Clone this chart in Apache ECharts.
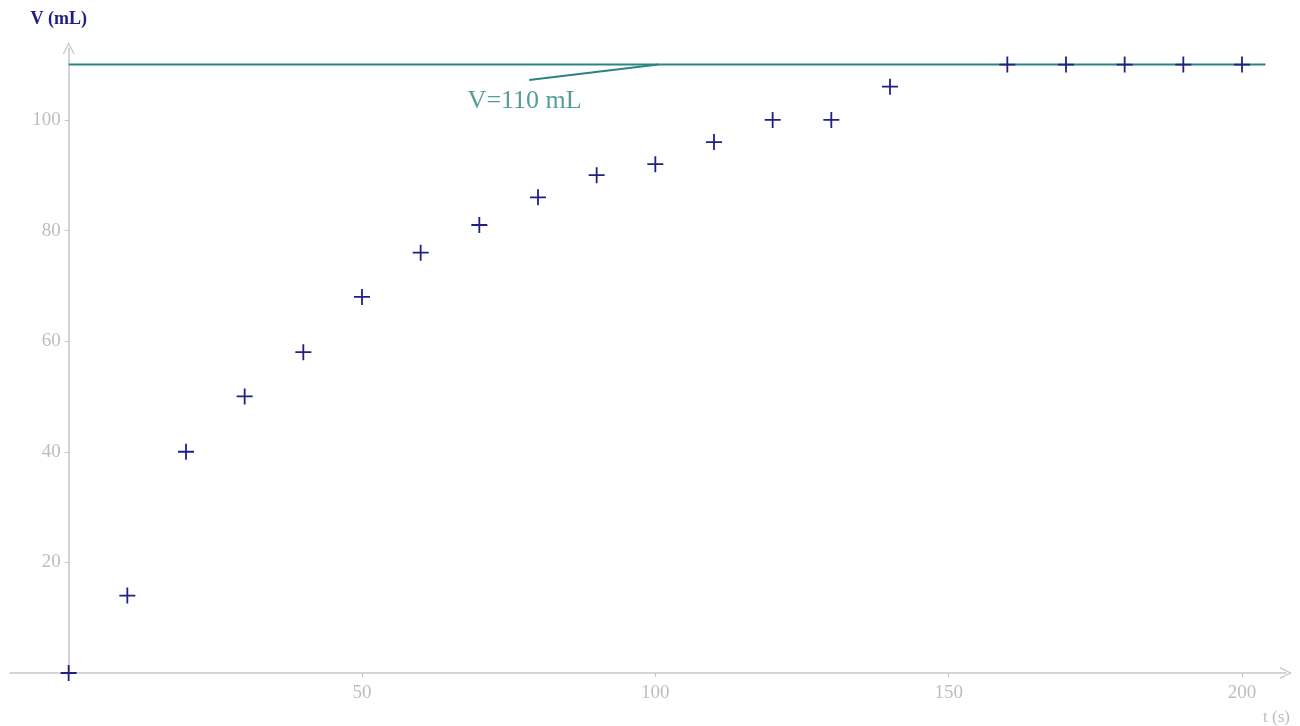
<!DOCTYPE html>
<html>
<head>
<meta charset="utf-8">
<script src="https://cdn.jsdelivr.net/npm/echarts@6/dist/echarts.min.js"></script>
<style>
html,body{margin:0;padding:0;background:#fff;}
#c{width:1300px;height:726px;}
</style>
</head>
<body>
<div id="c"></div>
<script>
// ---- data ----
var times = [0, 10, 20, 30, 40, 50, 60, 70, 80, 90, 100, 110, 120, 130, 140, 160, 170, 180, 190, 200];
var volumes = [0, 14, 40, 50, 58, 68, 76, 81, 86, 90, 92, 96, 100, 100, 106, 110, 110, 110, 110, 110];
var limitValue = 110;
var limitStartT = 0;
var limitEndT = 204;
var annotationText = 'V=110 mL';
var leaderFrom = [78.5, 107.2];
var leaderTo = [100.5, 110];
var annotationAnchor = [68, 103.4];
var xTickValues = [50, 100, 150, 200];
var yTickValues = [20, 40, 60, 80, 100];
var xTitle = 't (s)';
var yTitle = 'V (mL)';

var points = times.map(function (t, i) { return [t, volumes[i]]; });

var W = 1300;
var gridLeft = 10, gridRight = 14;
var xMin = -10, xMax = 207.5;
var plotW = W - gridLeft - gridRight;
var yAxisOffset = -(0 - xMin) * plotW / (xMax - xMin);

var axisGray = '#c6c6c6';
var labelGray = '#bdbdbd';
var teal = '#2a8580';
var navy = '#1f1f86';
var serif = '"Liberation Serif", "DejaVu Serif", serif';
var chevron = 'path://M0,12 L6,0 L12,12 L10.6,12 L6,2.6 L1.4,12 Z';
var plus = 'path://M0,7.1h16v1.8h-16z M7.1,0h1.8v16h-1.8z';

var chart = echarts.init(document.getElementById('c'), null, {renderer: 'canvas'});
chart.setOption({
  backgroundColor: '#ffffff',
  animation: false,
  grid: {left: gridLeft, right: gridRight, top: 48, bottom: 53, containLabel: false, outerBoundsMode: 'none'},
  xAxis: {
    type: 'value', min: xMin, max: xMax,
    splitLine: {show: false},
    axisLine: {show: true, onZero: true, lineStyle: {color: axisGray, width: 1.5},
      symbol: ['none', chevron], symbolSize: [12, 12]},
    axisTick: {show: true, length: 4, customValues: xTickValues, lineStyle: {color: axisGray}},
    axisLabel: {show: true, customValues: xTickValues, color: labelGray, fontFamily: serif, fontSize: 19, margin: 11}
  },
  yAxis: {
    type: 'value', min: 0, max: 113, position: 'left', offset: yAxisOffset,
    splitLine: {show: false},
    axisLine: {show: true, onZero: false, lineStyle: {color: axisGray, width: 1.5},
      symbol: ['none', chevron], symbolSize: [12, 12]},
    axisTick: {show: true, length: 4, customValues: yTickValues, lineStyle: {color: axisGray}},
    axisLabel: {show: true, customValues: yTickValues, color: labelGray, fontFamily: serif, fontSize: 19, margin: 8},
    name: yTitle, nameLocation: 'end', nameGap: 20,
    nameTextStyle: {color: navy, fontFamily: serif, fontSize: 18, fontWeight: 'bold', padding: [0, 20, 0, 0]}
  },
  graphic: [
    {type: 'text', right: 10, bottom: 0,
     style: {text: xTitle, fill: labelGray, font: '17px ' + serif}}
  ],
  series: [
    {
      type: 'line', name: 'limit', silent: true, symbol: 'none', z: 2,
      data: [[limitStartT, limitValue], [limitEndT, limitValue]],
      lineStyle: {color: teal, width: 2}
    },
    {
      type: 'line', name: 'leader', silent: true, symbol: 'none', z: 2,
      data: [leaderFrom, leaderTo],
      lineStyle: {color: teal, width: 2}
    },
    {
      type: 'scatter', name: 'annotation', silent: true, symbolSize: 0, z: 3,
      data: [annotationAnchor],
      label: {show: true, position: 'right', distance: 0, formatter: annotationText,
        color: teal, fontFamily: serif, fontSize: 26}
    },
    {
      type: 'scatter', name: 'V', symbol: plus, symbolSize: 16, z: 5,
      data: points,
      itemStyle: {color: navy, opacity: 1}
    }
  ]
});
</script>
</body>
</html>
